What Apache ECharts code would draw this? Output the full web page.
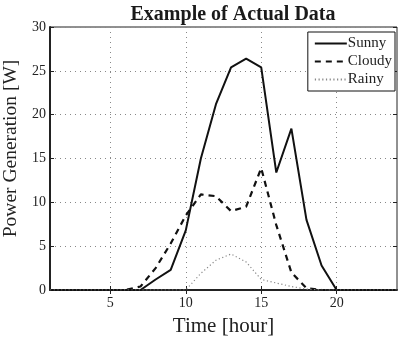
<!DOCTYPE html>
<html>
<head>
<meta charset="utf-8">
<script src="https://cdn.jsdelivr.net/npm/echarts@6/dist/echarts.min.js"></script>
<style>
  html, body { margin: 0; padding: 0; background: #fff; }
  #chart { width: 398px; height: 338px; }
</style>
</head>
<body>
<div id="chart"></div>
<script>
// hours 1..24
var hours = [];
for (var h = 1; h <= 24; h++) hours.push(h);
var sunny  = [0, 0, 0, 0, 0, 0, 0, 1.2, 2.3, 6.8, 15, 21.2, 25.4, 26.4, 25.4, 13.4, 18.4, 8, 2.8, 0, 0, 0, 0, 0];
var cloudy = [0, 0, 0, 0, 0, 0, 0.4, 2.5, 5.3, 8.5, 10.9, 10.7, 9.0, 9.5, 13.9, 7.4, 2.0, 0.2, 0, 0, 0, 0, 0, 0];
var rainy  = [0, 0, 0, 0, 0, 0, 0, 0, 0, 0, 1.9, 3.4, 4.1, 3.2, 1.2, 0.8, 0.4, 0.1, 0, 0, 0, 0, 0, 0];
var xTicks = [5, 10, 15, 20];

var serif = "'Liberation Serif', 'Times New Roman', serif";
var chart = echarts.init(document.getElementById('chart'));

function pairs(arr) {
    return arr.map(function (v, i) { return [hours[i], v]; });
}

var gridDotted = { show: true, lineStyle: { color: '#888', type: [1, 4], width: 1 } };

var option = {
    animation: false,
    title: {
        text: 'Example of Actual Data',
        left: 228, top: 0, textAlign: 'center',
        textStyle: { fontFamily: serif, fontWeight: 'bold', fontSize: 20, color: '#1a1a1a' }
    },
    grid: {
        left: 50, right: 1, top: 27, bottom: 48,
        outerBoundsMode: 'none',
        containLabel: false,
        show: true, borderColor: '#222', borderWidth: 1
    },
    legend: {
        orient: 'vertical',
        right: 3, top: 32,
        itemWidth: 32, itemHeight: 10, itemGap: 3,
        padding: [4, 3, 4, 6],
        backgroundColor: '#fff',
        borderColor: '#111', borderWidth: 1,
        itemStyle: { opacity: 0 },
        textStyle: { fontFamily: serif, fontSize: 15, color: '#222', padding: [0, 0, 0, -4] },
        data: ['Sunny', 'Cloudy', 'Rainy']
    },
    xAxis: [{
        type: 'value', min: 1, max: 24,
        name: 'Time [hour]', nameLocation: 'middle', nameGap: 26,
        nameTextStyle: { fontFamily: serif, fontSize: 21, color: '#222' },
        axisLine: { show: true, onZero: false, lineStyle: { color: '#222', width: 2 } },
        axisTick: { show: true, inside: true, length: 4, customValues: xTicks, lineStyle: { color: '#222' } },
        axisLabel: { customValues: xTicks, fontFamily: serif, fontSize: 14, color: '#222', margin: 6 },
        splitLine: gridDotted
    }, {
        type: 'value', min: 1, max: 24, position: 'top',
        axisLine: { show: false },
        axisTick: { show: true, inside: true, length: 4, customValues: xTicks, lineStyle: { color: '#222' } },
        axisLabel: { show: false },
        splitLine: { show: false }
    }],
    yAxis: [{
        type: 'value', min: 0, max: 30, interval: 5,
        name: 'Power Generation [W]', nameLocation: 'middle', nameGap: 23,
        nameTextStyle: { fontFamily: serif, fontSize: 19.5, color: '#222', padding: [0, 0, 0, 20] },
        axisLine: { show: true, lineStyle: { color: '#222', width: 2 } },
        axisTick: { show: true, inside: true, length: 4, lineStyle: { color: '#222' } },
        axisLabel: { fontFamily: serif, fontSize: 14, color: '#222', margin: 4 },
        splitLine: gridDotted
    }, {
        type: 'value', min: 0, max: 30, interval: 5, position: 'right',
        axisLine: { show: false },
        axisTick: { show: true, inside: true, length: 4, lineStyle: { color: '#222' } },
        axisLabel: { show: false },
        splitLine: { show: false }
    }],
    series: [
        {
            name: 'Sunny', type: 'line', data: pairs(sunny), symbol: 'none',
            itemStyle: { color: '#111' },
            lineStyle: { color: '#111', width: 2, type: 'solid' }
        },
        {
            name: 'Cloudy', type: 'line', data: pairs(cloudy), symbol: 'none',
            itemStyle: { color: '#111' },
            lineStyle: { color: '#111', width: 2.2, type: [6, 5] }
        },
        {
            name: 'Rainy', type: 'line', data: pairs(rainy), symbol: 'none',
            itemStyle: { color: '#888' },
            lineStyle: { color: '#888', width: 1.2, type: [1.2, 2.5] }
        }
    ]
};
chart.setOption(option);
</script>
</body>
</html>
